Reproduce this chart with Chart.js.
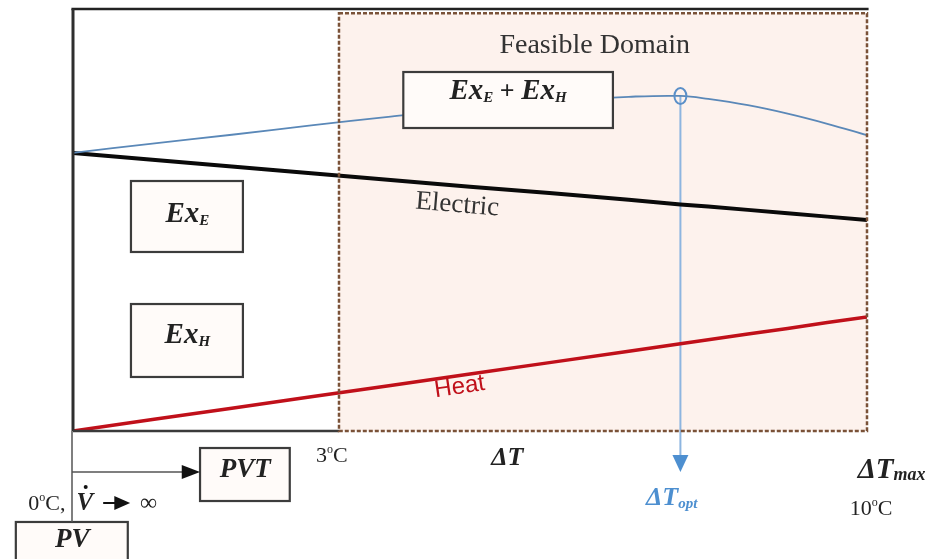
<!DOCTYPE html>
<html><head><meta charset="utf-8">
<script src="https://cdn.jsdelivr.net/npm/chart.js@4.4.1/dist/chart.umd.min.js"></script>
<style>html,body{margin:0;padding:0;background:#fff}#wrap{width:938px;height:559px;position:relative}</style>
</head><body><div id="wrap"><canvas id="c"></canvas></div>
<script>
// ---- data (schematic values) ----
const deltaT    = [0, 1, 2, 3, 4, 5, 6, 7, 7.65, 8, 8.5, 9, 9.5, 10];
const electric  = [65.9, 64.3, 62.7, 61.1, 59.5, 57.9, 56.4, 54.8, 53.7, 53.2, 52.4, 51.6, 50.8, 50.0];
const heat      = [0.0, 2.7, 5.4, 8.1, 10.8, 13.5, 16.2, 18.9, 20.7, 21.6, 23.0, 24.3, 25.7, 27.0];
const exergySum = [65.9, 68.1, 70.2, 72.4, 74.5, 76.5, 78.2, 79.2, 79.4, 78.7, 77.2, 75.2, 72.8, 70.1];
const feasibleStart = 3.35;   // start of feasible domain (3°C)
const deltaTOpt = 7.65;       // optimum ΔT
const tickLabels = ['0', '3', '10'];  // °C labels
const seriesNames = ['Ex_E + Ex_H', 'Electric', 'Heat'];

const SERIF = '"Liberation Serif","DejaVu Serif",serif';
const SANS = '"Liberation Sans",Arial,sans-serif';
const BI = s => 'italic bold ' + s + 'px ' + SERIF;
const RG = s => s + 'px ' + SERIF;

function rich(ctx, segs, cx, by, rot, base) {
  ctx.save();
  ctx.translate(cx, by);
  if (rot) ctx.rotate(rot);
  ctx.textAlign = 'left';
  ctx.textBaseline = base || 'alphabetic';
  let total = 0;
  const ws = segs.map(s => { ctx.font = s.f; const w = ctx.measureText(s.t).width; total += w + (s.gap || 0); return w; });
  let x = -total / 2;
  segs.forEach((s, i) => {
    ctx.font = s.f; ctx.fillStyle = s.c || '#222';
    ctx.fillText(s.t, x, s.dy || 0);
    x += ws[i] + (s.gap || 0);
  });
  ctx.restore();
}

const schematic = {
  id: 'schematic',
  beforeDatasetsDraw(chart) {
    const ctx = chart.ctx, xs = chart.scales.x, ys = chart.scales.y;
    const X = v => xs.getPixelForValue(v), Y = v => ys.getPixelForValue(v);
    const optY = exergySum[deltaT.indexOf(deltaTOpt)];
    ctx.save();
    // feasible domain fill
    ctx.fillStyle = 'rgb(253,242,237)';
    ctx.fillRect(X(feasibleStart), Y(99), X(10) - X(feasibleStart), Y(0) - Y(99));
    // optimum arrow line
    ctx.strokeStyle = '#8db5e0';
    ctx.lineWidth = 2;
    ctx.beginPath();
    ctx.moveTo(X(deltaTOpt), Y(optY));
    ctx.lineTo(X(deltaTOpt), Y(-6));
    ctx.stroke();
    ctx.fillStyle = '#4d8fd0';
    ctx.beginPath();
    ctx.moveTo(X(deltaTOpt) - 8, Y(-5.69));
    ctx.lineTo(X(deltaTOpt) + 8, Y(-5.69));
    ctx.lineTo(X(deltaTOpt), Y(-9.72));
    ctx.closePath();
    ctx.fill();
    ctx.restore();
  },
  afterDatasetsDraw(chart) {
    const ctx = chart.ctx, xs = chart.scales.x, ys = chart.scales.y;
    const X = v => xs.getPixelForValue(v), Y = v => ys.getPixelForValue(v);
    const optY = exergySum[deltaT.indexOf(deltaTOpt)];
    ctx.save();
    // frame: top, left, bottom-left
    ctx.strokeStyle = '#222'; ctx.lineWidth = 2.5;
    ctx.beginPath(); ctx.moveTo(X(-0.02), Y(100)); ctx.lineTo(X(10.02), Y(100)); ctx.stroke();
    ctx.strokeStyle = '#2e2e2e'; ctx.lineWidth = 3;
    ctx.beginPath(); ctx.moveTo(X(0), Y(100)); ctx.lineTo(X(0), Y(0)); ctx.stroke();
    ctx.lineWidth = 2.5; ctx.strokeStyle = '#3a3a3a';
    ctx.beginPath(); ctx.moveTo(X(0), Y(0)); ctx.lineTo(X(feasibleStart), Y(0)); ctx.stroke();
    // feasible domain dashed border
    ctx.strokeStyle = '#7a5238'; ctx.lineWidth = 2.5; ctx.setLineDash([4, 2]);
    ctx.strokeRect(X(feasibleStart), Y(99), X(10) - X(feasibleStart), Y(0) - Y(99));
    ctx.setLineDash([]);
    // optimum circle
    ctx.strokeStyle = '#5a8fc8'; ctx.lineWidth = 2;
    ctx.beginPath(); ctx.ellipse(X(deltaTOpt), Y(optY), 6, 8, 0, 0, Math.PI * 2); ctx.stroke();

    // boxes
    const box = (x0, x1, y0, y1) => {
      ctx.fillStyle = '#fffbf9';
      ctx.fillRect(X(x0), Y(y0), X(x1) - X(x0), Y(y1) - Y(y0));
      ctx.strokeStyle = '#3c3c3c'; ctx.lineWidth = 2.2;
      ctx.strokeRect(X(x0), Y(y0), X(x1) - X(x0), Y(y1) - Y(y0));
    };
    box(4.16, 6.80, 85.07, 71.80);
    box(0.73, 2.14, 59.24, 42.42);
    box(0.73, 2.14, 30.09, 12.80);
    box(1.60, 2.73, -4.03, -16.59);
    box(-0.72, 0.69, -21.56, -31.5);

    rich(ctx, [{t: 'Ex', f: BI(29)}, {t: 'E', f: BI(15), dy: 3}, {t: ' + ', f: 'bold ' + RG(26)}, {t: 'Ex', f: BI(29)}, {t: 'H', f: BI(15), dy: 3}], X(5.48), Y(78.67));
    rich(ctx, [{t: 'Ex', f: BI(29)}, {t: 'E', f: BI(15), dy: 3}], X(1.44), Y(49.53));
    rich(ctx, [{t: 'Ex', f: BI(29)}, {t: 'H', f: BI(15), dy: 3}], X(1.44), Y(20.85));

    // in-plot labels
    rich(ctx, [{t: 'Feasible Domain', f: RG(28), c: '#333'}], X(6.57), Y(89.57));
    rich(ctx, [{t: seriesNames[1], f: RG(27), c: '#333'}], X(4.84), Y(53.55), Math.atan(67 / 793), 'middle');
    rich(ctx, [{t: seriesNames[2], f: '24px ' + SANS, c: '#c0101a'}], X(4.87), Y(10.43), -Math.atan(115 / 793), 'middle');

    // axis annotations
    rich(ctx, [{t: tickLabels[1], f: RG(22)}, {t: 'o', f: RG(12), dy: -9}, {t: 'C', f: RG(22)}], X(3.26), Y(-7.35));
    rich(ctx, [{t: 'ΔT', f: BI(26)}], X(5.47), Y(-8.06));
    rich(ctx, [{t: 'ΔT', f: BI(29)}, {t: 'max', f: BI(18), dy: 2}], X(10.31), Y(-11.14));
    rich(ctx, [{t: tickLabels[2], f: RG(22)}, {t: 'o', f: RG(12), dy: -9}, {t: 'C', f: RG(22)}], X(10.05), Y(-19.91));
    rich(ctx, [{t: 'ΔT', f: BI(26), c: '#4d8fd0'}, {t: 'opt', f: BI(15), c: '#4d8fd0', dy: 3}], X(7.54), Y(-17.54));

    // PV / PVT schematic
    ctx.strokeStyle = '#555'; ctx.lineWidth = 1.5;
    ctx.beginPath(); ctx.moveTo(X(0) - 1, Y(0)); ctx.lineTo(X(0) - 1, Y(-21.56)); ctx.stroke();
    ctx.beginPath(); ctx.moveTo(X(0) - 1, Y(-9.72)); ctx.lineTo(X(1.40), Y(-9.72)); ctx.stroke();
    ctx.fillStyle = '#111';
    ctx.beginPath();
    ctx.moveTo(X(1.37), Y(-9.72) - 7); ctx.lineTo(X(1.60), Y(-9.72)); ctx.lineTo(X(1.37), Y(-9.72) + 7);
    ctx.closePath(); ctx.fill();
    rich(ctx, [{t: 'PVT', f: BI(27)}], X(2.17), Y(-10.9));
    rich(ctx, [{t: 'PV', f: BI(27)}], X(-0.01), Y(-27.49));
    // 0°C, V̇ → ∞
    rich(ctx, [{t: tickLabels[0], f: RG(22)}, {t: 'o', f: RG(12), dy: -9}, {t: 'C,', f: RG(22)}], X(-0.33), Y(-18.72));
    rich(ctx, [{t: 'V', f: BI(25)}], X(0.15), Y(-18.72));
    ctx.fillStyle = '#111';
    ctx.beginPath(); ctx.arc(X(0.16), Y(-18.72) - 23, 2, 0, Math.PI * 2); ctx.fill();
    ctx.strokeStyle = '#111'; ctx.lineWidth = 2;
    ctx.beginPath(); ctx.moveTo(X(0.38), Y(-18.72) - 7); ctx.lineTo(X(0.55), Y(-18.72) - 7); ctx.stroke();
    ctx.beginPath();
    ctx.moveTo(X(0.52), Y(-18.72) - 14); ctx.lineTo(X(0.72), Y(-18.72) - 7); ctx.lineTo(X(0.52), Y(-18.72));
    ctx.closePath(); ctx.fill();
    rich(ctx, [{t: '∞', f: RG(24)}], X(0.95), Y(-18.72));
    ctx.restore();
  }
};

const pts = arr => deltaT.map((x, i) => ({x, y: arr[i]}));

new Chart(document.getElementById('c'), {
  type: 'line',
  data: {
    datasets: [
      {label: seriesNames[0], data: pts(exergySum), borderColor: '#5a88b8', borderWidth: 1.8, tension: 0.4, pointRadius: 0, fill: false},
      {label: seriesNames[1], data: pts(electric), borderColor: '#0a0a0a', borderWidth: 4, pointRadius: 0, fill: false, tension: 0},
      {label: seriesNames[2], data: pts(heat), borderColor: '#c0101a', borderWidth: 3.5, pointRadius: 0, fill: false, tension: 0}
    ]
  },
  options: {
    responsive: true,
    maintainAspectRatio: false,
    animation: false,
    layout: {padding: {left: 73, right: 71, top: 9, bottom: 128}},
    scales: {
      x: {type: 'linear', min: 0, max: 10, display: false},
      y: {type: 'linear', min: 0, max: 100, display: false}
    },
    plugins: {legend: {display: false}, tooltip: {enabled: false}}
  },
  plugins: [schematic]
});
</script>
</body></html>
